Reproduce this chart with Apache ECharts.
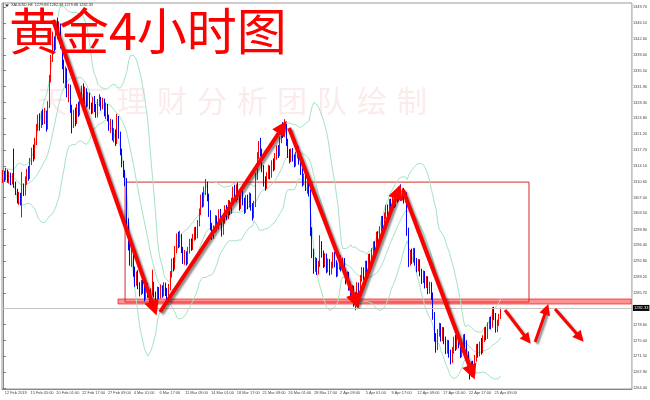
<!DOCTYPE html>
<html><head><meta charset="utf-8">
<script src="https://cdn.jsdelivr.net/npm/echarts@6/dist/echarts.min.js"></script>
<style>html,body{margin:0;padding:0;background:#fff}#c{width:650px;height:400px}</style>
</head><body><div id="c"></div>
<script>
// ---- data ----
const titleText = '黄金4小时图';
const watermarkChars = ['天','汇','理','财','分','析','团','队','绘','制'];
const headerText = 'XAUUSD,H4  1279.88 1282.38 1279.88 1282.33';
const xTickLabels = ['12 Feb 2019','15 Feb 05:00','20 Feb 01:00','22 Feb 17:00','27 Feb 09:00','4 Mar 01:00','6 Mar 17:00','11 Mar 09:00','14 Mar 01:00','18 Mar 17:00','21 Mar 09:00','26 Mar 01:00','28 Mar 17:00','2 Apr 09:00','5 Apr 01:00','9 Apr 17:00','12 Apr 09:00','17 Apr 01:00','22 Apr 17:00','25 Apr 09:00'];
const yTickLabels = ['1264.40','1267.90','1271.50','1275.00','1278.60','1285.70','1289.20','1292.80','1296.40','1299.90','1303.50','1307.00','1310.60','1314.10','1317.70','1321.20','1324.80','1328.30','1331.90','1335.50','1339.00','1342.60','1346.10','1349.70'];
const totalSlots = 391;
const lastPrice = 1282.33;
// candles: [open, close, low, high]
const candles = [
[1311.0,1312.4,1310.3,1313.2],[1312.4,1311.3,1310.6,1313.0],[1311.3,1312.9,1310.9,1313.7],[1312.9,1311.0,1310.4,1313.3],[1311.0,1312.2,1310.2,1312.9],
[1312.2,1310.6,1309.8,1312.6],[1310.6,1311.8,1310.0,1312.5],[1311.8,1309.9,1309.2,1318.0],[1309.9,1308.4,1307.6,1310.6],[1308.4,1306.3,1305.7,1309.0],
[1306.3,1307.5,1305.4,1308.3],[1307.5,1305.9,1305.3,1308.1],[1305.9,1309.3,1302.6,1312.8],[1309.3,1308.1,1307.4,1310.2],[1308.1,1311.0,1307.5,1311.8],
[1311.0,1312.6,1309.9,1313.5],[1312.6,1311.8,1310.8,1314.1],[1311.8,1315.0,1311.2,1315.9],[1315.0,1317.4,1314.3,1318.2],[1317.4,1316.2,1315.1,1318.9],
[1316.2,1319.6,1315.6,1320.4],[1319.6,1322.7,1318.8,1323.5],[1322.7,1324.8,1321.9,1325.6],[1324.8,1323.1,1322.0,1325.9],[1323.1,1325.6,1322.6,1326.4],
[1325.6,1324.2,1323.3,1326.8],[1324.2,1325.9,1323.5,1327.1],[1325.9,1322.9,1321.8,1326.5],[1322.9,1327.8,1322.3,1328.6],[1327.8,1333.6,1327.1,1334.5],
[1333.6,1338.2,1332.8,1339.0],[1338.2,1341.9,1337.4,1344.2],[1341.9,1340.6,1339.8,1343.1],[1340.6,1344.8,1340.1,1346.0],[1344.8,1343.7,1342.5,1347.3],
[1343.7,1345.4,1342.9,1346.5],[1345.4,1341.2,1340.4,1346.0],[1341.2,1336.5,1335.8,1342.0],[1336.5,1333.8,1332.6,1337.9],[1333.8,1335.2,1331.5,1336.4],
[1335.2,1330.4,1329.5,1336.0],[1330.4,1331.6,1328.4,1332.5],[1331.6,1327.0,1326.0,1332.3],[1327.0,1323.4,1321.4,1327.8],[1323.4,1325.8,1322.6,1326.7],
[1325.8,1324.1,1323.0,1327.2],[1324.1,1327.3,1323.5,1328.0],[1327.3,1326.0,1325.1,1328.5],[1326.0,1329.6,1325.4,1330.4],[1329.6,1331.3,1328.8,1332.1],
[1331.3,1329.2,1328.5,1332.6],[1329.2,1330.8,1328.0,1331.9],[1330.8,1328.1,1327.2,1331.5],[1328.1,1329.9,1327.4,1330.7],[1329.9,1327.5,1326.8,1330.5],
[1327.5,1326.4,1325.7,1328.3],[1326.4,1328.8,1325.9,1329.6],[1328.8,1327.1,1326.2,1329.8],[1327.1,1325.6,1324.9,1328.0],[1325.6,1328.2,1325.0,1329.1],
[1328.2,1329.0,1327.4,1330.2],[1329.0,1327.3,1326.5,1329.6],[1327.3,1328.6,1326.8,1329.4],[1328.6,1326.1,1325.2,1329.2],[1326.1,1327.4,1324.6,1328.3],
[1327.4,1324.9,1324.1,1328.0],[1324.9,1322.8,1322.0,1325.6],[1322.8,1323.9,1321.5,1324.7],[1323.9,1320.6,1319.8,1324.5],[1320.6,1321.7,1319.4,1322.6],
[1321.7,1319.5,1318.6,1322.3],[1319.5,1324.6,1319.0,1325.8],[1324.6,1321.0,1320.2,1325.3],[1321.0,1317.2,1316.5,1321.8],[1317.2,1314.6,1313.8,1318.0],
[1314.6,1312.3,1311.5,1315.3],[1312.3,1310.4,1309.6,1313.2],[1310.4,1301.5,1300.2,1311.4],[1301.5,1296.3,1295.2,1302.4],[1296.3,1293.2,1291.8,1297.6],
[1293.2,1294.8,1291.5,1296.1],[1294.8,1290.4,1289.3,1295.5],[1290.4,1288.1,1287.0,1291.6],[1288.1,1289.6,1287.3,1290.5],[1289.6,1287.2,1286.5,1290.8],
[1287.2,1285.7,1284.9,1288.1],[1285.7,1287.8,1285.2,1288.6],[1287.8,1286.4,1285.5,1289.0],[1286.4,1284.9,1283.8,1287.3],[1284.9,1286.9,1284.2,1287.6],
[1286.9,1285.3,1284.6,1287.9],[1285.3,1284.0,1282.9,1286.2],[1284.0,1285.8,1283.4,1286.7],[1285.8,1287.5,1285.1,1290.9],[1287.5,1285.4,1284.7,1288.2],
[1285.4,1284.1,1281.6,1286.0],[1284.1,1286.2,1283.5,1287.1],[1286.2,1285.0,1284.3,1287.0],[1285.0,1286.7,1284.4,1287.6],[1286.7,1285.5,1284.6,1287.4],
[1285.5,1287.3,1284.9,1288.1],[1287.3,1285.9,1285.0,1288.0],[1285.9,1284.6,1283.7,1286.8],[1284.6,1286.9,1284.0,1287.7],[1286.9,1289.8,1286.3,1290.6],
[1289.8,1292.6,1289.1,1293.4],[1292.6,1291.4,1290.5,1293.6],[1291.4,1295.3,1290.9,1296.2],[1295.3,1297.8,1294.6,1299.0],[1297.8,1296.6,1295.7,1299.4],
[1296.6,1298.2,1295.9,1299.6],[1298.2,1295.4,1294.6,1298.9],[1295.4,1293.1,1292.2,1296.0],[1293.1,1294.5,1292.0,1295.3],[1294.5,1292.6,1291.8,1295.0],
[1292.6,1295.2,1292.1,1296.0],[1295.2,1297.0,1294.5,1297.8],[1297.0,1295.9,1295.1,1297.9],[1295.9,1298.1,1295.3,1298.9],[1298.1,1299.6,1297.4,1300.4],
[1299.6,1298.4,1297.6,1300.5],[1298.4,1301.2,1297.9,1302.0],[1301.2,1303.8,1300.6,1304.6],[1303.8,1306.9,1303.1,1307.7],[1306.9,1305.6,1304.8,1308.2],
[1305.6,1308.7,1305.0,1309.5],[1308.7,1309.8,1307.6,1311.2],[1309.8,1307.1,1306.2,1310.6],[1307.1,1303.5,1302.7,1307.9],[1303.5,1300.6,1299.7,1304.2],
[1300.6,1298.4,1297.6,1301.4],[1298.4,1299.9,1297.8,1300.8],[1299.9,1302.3,1299.2,1303.1],[1302.3,1300.4,1299.5,1303.0],[1300.4,1303.6,1299.9,1304.4],
[1303.6,1301.8,1301.0,1304.5],[1301.8,1299.3,1298.3,1302.6],[1299.3,1301.9,1298.7,1302.7],[1301.9,1304.5,1301.2,1305.3],[1304.5,1302.8,1302.0,1305.4],
[1302.8,1305.7,1302.2,1306.5],[1305.7,1303.9,1303.1,1306.4],[1303.9,1306.2,1303.4,1307.0],[1306.2,1308.6,1305.6,1309.5],[1308.6,1306.7,1305.9,1309.9],
[1306.7,1309.1,1306.0,1310.0],[1309.1,1307.3,1306.5,1310.4],[1307.3,1305.0,1304.1,1308.0],[1305.0,1307.8,1304.5,1308.6],[1307.8,1306.1,1305.3,1308.9],
[1306.1,1304.2,1303.4,1307.0],[1304.2,1306.9,1303.6,1307.6],[1306.9,1305.3,1304.4,1307.7],[1305.3,1307.4,1304.8,1308.2],[1307.4,1305.0,1304.1,1308.0],
[1305.0,1303.1,1301.9,1305.8],[1303.1,1305.4,1302.4,1306.3],[1305.4,1311.8,1304.9,1312.6],[1311.8,1316.3,1311.0,1317.2],[1316.3,1318.9,1315.6,1319.7],
[1318.9,1317.1,1316.2,1320.4],[1317.1,1313.5,1312.7,1318.0],[1313.5,1310.6,1309.5,1314.3],[1310.6,1309.5,1308.6,1311.8],[1309.5,1311.9,1309.0,1312.7],
[1311.9,1313.6,1311.2,1314.4],[1313.6,1312.0,1311.1,1314.2],[1312.0,1314.7,1311.5,1315.4],[1314.7,1313.8,1312.9,1315.8],[1313.8,1316.2,1313.2,1317.0],
[1316.2,1317.9,1315.5,1318.7],[1317.9,1316.8,1315.9,1318.8],[1316.8,1319.9,1316.3,1320.7],[1319.9,1322.4,1319.2,1323.3],[1322.4,1321.3,1320.4,1323.9],
[1321.3,1322.9,1320.8,1324.6],[1322.9,1319.4,1318.6,1323.5],[1319.4,1316.8,1315.9,1320.2],[1316.8,1315.6,1314.7,1317.9],[1315.6,1317.2,1315.0,1318.0],
[1317.2,1315.9,1315.1,1318.1],[1315.9,1314.6,1313.8,1316.7],[1314.6,1316.5,1314.0,1317.3],[1316.5,1317.9,1315.8,1318.7],[1317.9,1315.2,1314.4,1318.5],
[1315.2,1312.9,1312.1,1316.0],[1312.9,1310.4,1309.5,1313.6],[1310.4,1311.6,1309.8,1312.4],[1311.6,1309.3,1308.5,1312.3],[1309.3,1310.5,1307.9,1311.3],
[1310.5,1308.1,1307.3,1311.0],[1308.1,1299.6,1298.4,1308.9],[1299.6,1294.8,1293.5,1300.4],[1294.8,1291.2,1290.0,1295.6],[1291.2,1292.9,1290.4,1293.7],
[1292.9,1290.6,1289.7,1293.5],[1290.6,1292.1,1289.8,1292.9],[1292.1,1296.4,1291.5,1298.6],[1296.4,1294.5,1293.6,1297.3],[1294.5,1292.2,1291.3,1295.2],
[1292.2,1293.8,1291.5,1294.6],[1293.8,1291.0,1290.1,1294.5],[1291.0,1292.6,1290.3,1293.4],[1292.6,1290.5,1289.6,1293.3],[1290.5,1291.9,1289.8,1292.7],
[1291.9,1294.0,1291.2,1294.8],[1294.0,1292.3,1291.4,1294.9],[1292.3,1290.1,1289.2,1293.0],[1290.1,1291.7,1289.4,1292.5],[1291.7,1293.2,1290.9,1294.0],
[1293.2,1291.4,1290.5,1294.1],[1291.4,1292.8,1290.7,1293.6],[1292.8,1290.3,1289.5,1293.5],[1290.3,1288.4,1287.6,1291.1],[1288.4,1289.7,1287.8,1290.5],
[1289.7,1287.1,1286.2,1290.4],[1287.1,1285.3,1284.4,1288.0],[1285.3,1286.6,1284.0,1287.4],[1286.6,1284.2,1282.6,1287.3],[1284.2,1285.1,1281.8,1285.9],
[1285.1,1287.3,1284.5,1288.1],[1287.3,1286.1,1285.2,1288.0],[1286.1,1288.9,1285.6,1289.7],[1288.9,1290.7,1288.2,1291.5],[1290.7,1289.5,1288.6,1291.4],
[1289.5,1292.1,1288.9,1292.9],[1292.1,1291.0,1290.1,1292.9],[1291.0,1293.6,1290.4,1294.4],[1293.6,1292.2,1291.3,1294.5],[1292.2,1294.9,1291.6,1295.7],
[1294.9,1296.4,1294.1,1297.2],[1296.4,1295.2,1294.3,1297.3],[1295.2,1298.6,1294.7,1299.4],[1298.6,1297.3,1296.4,1299.5],[1297.3,1299.8,1296.8,1300.6],
[1299.8,1302.1,1299.1,1302.9],[1302.1,1300.7,1299.8,1302.9],[1300.7,1302.9,1300.1,1303.7],[1302.9,1304.6,1302.2,1305.4],[1304.6,1303.4,1302.5,1305.5],
[1303.4,1305.9,1302.9,1306.7],[1305.9,1304.5,1303.6,1306.8],[1304.5,1306.8,1304.0,1307.6],[1306.8,1305.6,1304.7,1308.1],[1305.6,1307.9,1305.0,1308.7],
[1307.9,1306.8,1305.9,1308.9],[1306.8,1308.7,1306.2,1309.5],[1308.7,1307.2,1306.3,1310.0],[1307.2,1308.3,1306.5,1309.1],[1308.3,1306.6,1305.7,1309.2],
[1306.6,1307.5,1305.9,1308.4],[1307.5,1299.4,1298.5,1308.2],[1299.4,1292.6,1291.5,1300.3],[1292.6,1294.4,1291.8,1295.3],[1294.4,1293.1,1292.2,1295.6],
[1293.1,1295.0,1292.5,1295.8],[1295.0,1292.7,1291.8,1295.7],[1292.7,1291.2,1290.3,1293.5],[1291.2,1292.5,1290.5,1293.3],[1292.5,1290.3,1289.4,1293.2],
[1290.3,1288.6,1287.7,1291.1],[1288.6,1289.9,1287.9,1290.7],[1289.9,1287.6,1286.7,1290.6],[1287.6,1288.7,1286.8,1289.5],[1288.7,1286.3,1285.4,1289.4],
[1286.3,1287.4,1285.5,1288.2],[1287.4,1285.0,1284.1,1288.1],[1285.0,1280.6,1279.7,1285.8],[1280.6,1275.9,1274.8,1281.4],[1275.9,1273.4,1272.3,1276.7],
[1273.4,1276.8,1272.9,1277.6],[1276.8,1278.2,1275.9,1279.0],[1278.2,1275.7,1274.8,1278.9],[1275.7,1277.3,1274.9,1278.1],[1277.3,1275.1,1274.2,1278.0],
[1275.1,1272.9,1272.0,1275.9],[1272.9,1274.4,1272.1,1275.2],[1274.4,1272.1,1271.2,1275.1],[1272.1,1270.6,1269.7,1273.0],[1270.6,1272.8,1270.0,1273.6],
[1272.8,1275.1,1272.1,1275.9],[1275.1,1273.6,1272.7,1276.3],[1273.6,1275.8,1273.0,1276.6],[1275.8,1274.2,1273.3,1276.9],[1274.2,1272.0,1271.1,1275.0],
[1272.0,1273.5,1271.3,1274.3],[1273.5,1275.6,1272.8,1276.4],[1275.6,1274.3,1273.4,1276.5],[1274.3,1271.8,1270.9,1275.1],[1271.8,1269.4,1268.5,1272.6],
[1269.4,1267.8,1266.3,1270.2],[1267.8,1269.6,1266.9,1270.4],[1269.6,1268.3,1267.4,1270.5],[1268.3,1271.0,1267.7,1271.8],[1271.0,1273.4,1270.3,1274.2],
[1273.4,1272.1,1271.2,1274.3],[1272.1,1274.0,1271.5,1274.8],[1274.0,1272.8,1271.9,1275.6],[1272.8,1275.4,1272.2,1276.2],[1275.4,1277.2,1274.7,1278.0],
[1277.2,1276.0,1275.1,1278.1],[1276.0,1278.3,1275.4,1279.1],[1278.3,1279.5,1277.6,1280.3],[1279.5,1278.4,1277.5,1280.4],[1278.4,1281.6,1277.9,1282.5],
[1281.6,1280.5,1279.6,1282.6],[1280.5,1277.6,1276.8,1281.2],[1277.6,1278.9,1276.9,1279.7],[1278.9,1279.9,1278.3,1281.0],[1279.88,1282.33,1279.88,1282.38]
];
// annotations in (bar index, price)
const zoneRect = [[75.9, 1310.5], [326.6, 1283.65]];
const supportBand = [[71.5, 1284.33], [390, 1283.2]];
const trendArrows = [
  [[31.2, 1346.79], [93.9, 1282.24]],
  [[97.6, 1281.42], [173.7, 1322.83]],
  [[177.7, 1322.61], [219.1, 1283.79]],
  [[219.2, 1282.76], [245.3, 1308.37]],
  [[248.4, 1308.73], [291.2, 1267.89]]
];
const forecastArrows = [
  [[311.7, 1281.86], [325.6, 1275.28]],
  [[330.4, 1274.70], [337.5, 1282.04]],
  [[342.8, 1282.09], [358.3, 1275.68]]
];

// ---- chart ----
const closes = candles.map(c => c[1]);
function bollinger(vals, n, k) {
  const up = [], mid = [], lo = [];
  for (let i = 0; i < vals.length; i++) {
    const w = vals.slice(Math.max(0, i - n + 1), i + 1);
    const m = w.reduce((a, b) => a + b, 0) / w.length;
    const sd = Math.sqrt(w.reduce((a, b) => a + (b - m) * (b - m), 0) / w.length);
    up.push(+(m + k * sd).toFixed(2)); mid.push(+m.toFixed(2)); lo.push(+(m - k * sd).toFixed(2));
  }
  return { up, mid, lo };
}
const bb = bollinger(closes, 20, 2);
const cats = Array.from({ length: totalSlots }, (_, i) => String(i));
const FONT = 'Liberation Sans';
const chart = echarts.init(document.getElementById('c'), null, { renderer: 'canvas' });
const bandStyle = { color: '#a6e3c3', width: 1 };
const arrowShadow = { shadowColor: 'rgba(0,0,0,0.45)', shadowBlur: 2, shadowOffsetX: 2, shadowOffsetY: 2 };

const graphics = [
  { type: 'text', left: 9, top: 6, z: 100, style: { text: titleText, fill: '#ff0000', font: 'normal 50px "Noto Sans CJK SC"' } },
  { type: 'text', left: 11, top: 3, z: 100, style: { text: headerText, fill: '#333', font: '3.8px "Liberation Sans"' } },
  { type: 'polygon', z: 100, shape: { points: [[5, 4.5], [9, 4.5], [7, 7]] }, style: { fill: '#333' } }
];
watermarkChars.forEach((ch, k) => graphics.push({
  type: 'text', left: 37 + 40 * k, top: 86, z: 1, silent: true,
  style: { text: ch, fill: '#fcebeb', font: 'normal 30px "Noto Sans CJK SC"' }
}));

chart.setOption({
  animation: false,
  backgroundColor: '#fff',
  grid: { left: 2, right: 18, top: 3, bottom: 11, show: true, borderColor: '#999', borderWidth: 1, backgroundColor: 'transparent' },
  xAxis: [
    {
      type: 'category', data: cats, boundaryGap: true,
      axisLine: { lineStyle: { color: '#888' } },
      axisTick: { alignWithLabel: true, length: 5, lineStyle: { color: '#777' },
        interval: (i) => i % 16 === 0 && i / 16 < xTickLabels.length },
      axisLabel: { interval: (i) => i % 16 === 0 && i / 16 < xTickLabels.length,
        formatter: (v, i) => xTickLabels[i / 16] || '', align: 'left', margin: 2, padding: [0, 0, 0, 2],
        fontSize: 3.9, color: '#444', fontFamily: FONT },
      splitLine: { show: false }
    },
    { type: 'value', min: -0.5, max: totalSlots - 0.5, show: false }
  ],
  yAxis: {
    type: 'value', position: 'right', min: 1264.18, max: 1350.6, scale: true,
    axisLine: { show: true, lineStyle: { color: '#888' } },
    axisTick: { show: true, length: 3, lineStyle: { color: '#777' }, customValues: yTickLabels.map(Number) },
    axisLabel: { customValues: yTickLabels.map(Number), formatter: (v) => Number(v).toFixed(2),
      fontSize: 3.9, color: '#444', fontFamily: FONT, margin: 1 },
    splitLine: { show: false }
  },
  graphic: graphics,
  series: [
    { type: 'line', data: bb.up, showSymbol: false, silent: true, lineStyle: bandStyle, z: 1 },
    { type: 'line', data: bb.mid, showSymbol: false, silent: true, lineStyle: bandStyle, z: 1 },
    { type: 'line', data: bb.lo, showSymbol: false, silent: true, lineStyle: bandStyle, z: 1 },
    {
      type: 'candlestick', data: candles, barWidth: 1, z: 2,
      itemStyle: { color: '#ff0000', color0: '#0000ff', borderColor: '#ff0000', borderColor0: '#0000ff', borderWidth: 1 }
    },
    {
      type: 'line', xAxisIndex: 1, data: [], z: 3, silent: true,
      markArea: {
        silent: true,
        data: [
          [{ coord: zoneRect[0], itemStyle: { color: 'rgba(0,0,0,0)', borderColor: '#d42a2a', borderWidth: 1 } }, { coord: zoneRect[1] }],
          [{ coord: supportBand[0], itemStyle: { color: 'rgba(255,40,40,0.5)', borderColor: 'rgba(230,0,0,0.6)', borderWidth: 1 } }, { coord: supportBand[1] }]
        ]
      },
      markLine: {
        silent: true, symbol: 'none',
        lineStyle: { color: '#c4c4c4', width: 1, type: 'solid' },
        label: { show: true, position: 'end', distance: 1, formatter: lastPrice.toFixed(2), backgroundColor: '#000', color: '#fff', fontSize: 4, fontFamily: FONT, padding: [1, 1] },
        data: [{ yAxis: lastPrice }]
      }
    },
    {
      type: 'lines', coordinateSystem: 'cartesian2d', xAxisIndex: 1, z: 5, silent: true,
      symbol: ['none', 'triangle'], symbolSize: 15,
      lineStyle: Object.assign({ color: '#ff0000', width: 4, opacity: 1 }, arrowShadow),
      data: trendArrows.map(a => ({ coords: a }))
    },
    {
      type: 'lines', coordinateSystem: 'cartesian2d', xAxisIndex: 1, z: 5, silent: true,
      symbol: ['none', 'triangle'], symbolSize: 11,
      lineStyle: Object.assign({ color: '#ff0000', width: 3, opacity: 1 }, arrowShadow),
      data: forecastArrows.map(a => ({ coords: a }))
    }
  ]
});
</script></body></html>
